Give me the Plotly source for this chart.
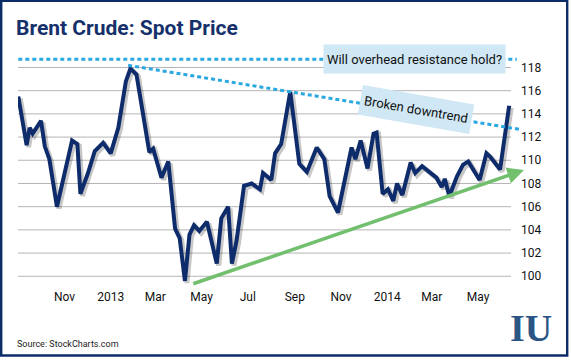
import plotly.graph_objects as go

# ---------------- data ----------------
dates = [
    "2012-09-01", "2012-09-12", "2012-09-16", "2012-09-20", "2012-10-01", "2012-10-06", "2012-10-12", "2012-10-22",
    "2012-11-11", "2012-11-18", "2012-11-22", "2012-12-02", "2012-12-11", "2012-12-22",
    "2013-01-01", "2013-01-11", "2013-01-21", "2013-01-27", "2013-02-04", "2013-02-13", "2013-02-21", "2013-02-26",
    "2013-03-09", "2013-03-18", "2013-03-27", "2013-04-02", "2013-04-09", "2013-04-15", "2013-04-21", "2013-04-28",
    "2013-05-08", "2013-05-21", "2013-05-27", "2013-06-05", "2013-06-10", "2013-06-16", "2013-06-26",
    "2013-07-06", "2013-07-17", "2013-07-21", "2013-08-01", "2013-08-06", "2013-08-14", "2013-08-26",
    "2013-09-07", "2013-09-17", "2013-09-30", "2013-10-10", "2013-10-17", "2013-10-28",
    "2013-11-15", "2013-11-20", "2013-11-27", "2013-12-06", "2013-12-14", "2013-12-18", "2013-12-26",
    "2014-01-02", "2014-01-09", "2014-01-14", "2014-01-21", "2014-02-01", "2014-02-07", "2014-02-16",
    "2014-03-07", "2014-03-14", "2014-03-18", "2014-03-24", "2014-04-03", "2014-04-11", "2014-04-18",
    "2014-05-03", "2014-05-12", "2014-05-17", "2014-05-30", "2014-06-11",
]
prices = [
    115.5, 111.3, 112.8, 112.3, 113.4, 111.2, 110.1, 106.0,
    111.7, 111.4, 107.1, 108.9, 110.8, 111.5,
    110.6, 112.8, 116.8, 117.9, 117.4, 113.8, 110.7, 111.0,
    108.5, 109.9, 104.1, 103.3, 99.6, 103.6, 104.4, 103.9,
    104.7, 101.1, 105.0, 106.0, 101.1, 103.0, 107.8,
    108.0, 107.5, 108.9, 108.3, 110.6, 111.4, 115.9,
    109.7, 109.0, 111.1, 110.1, 106.9, 105.5,
    111.1, 110.1, 111.7, 109.3, 112.3, 112.4, 107.1,
    107.5, 106.5, 108.0, 107.0, 109.8, 108.9, 109.5,
    108.5, 107.7, 108.4, 106.9, 108.6, 109.6, 109.9,
    108.3, 110.6, 110.3, 109.2, 114.7,
]

x_tick_vals = ["2012-11-01", "2013-01-01", "2013-03-01", "2013-05-01", "2013-07-01",
               "2013-09-01", "2013-11-01", "2014-01-01", "2014-03-01", "2014-05-01"]
x_tick_text = ["Nov", "2013", "Mar", "May", "Jul", "Sep", "Nov", "2014", "Mar", "May"]
y_tick_vals = [100, 102, 104, 106, 108, 110, 112, 114, 116, 118]

# trend / resistance lines (values)
resistance_level = 118.71
resistance_dates = ["2012-09-01", "2014-06-21"]
downtrend_dates = ["2013-01-24", "2014-06-24 10:00"]
downtrend_values = [118.19, 112.67]
uptrend_dates = ["2013-04-18", "2014-06-30 14:00"]
uptrend_values = [99.31, 109.16]

title_text = "Brent Crude: Spot Price"
source_text = "Source: StockCharts.com"
label_resistance = "Will overhead resistance hold?"
label_downtrend = "Broken downtrend"

# ---------------- layout geometry ----------------
FIG_W, FIG_H = 571, 360
L, R, T, B = 18, 51, 56, 72
PW, PH = FIG_W - L - R, FIG_H - T - B
X_RANGE = ["2012-08-31 14:38", "2014-06-25 07:40"]
Y_RANGE = [98.99, 118.99]
# shadow offset ranges (shift 2px right / 2px down)
X_RANGE_SH = ["2012-08-28 23:20", "2014-06-22 16:20"]
Y_RANGE_SH = [Y_RANGE[0] + 0.17, Y_RANGE[1] + 0.17]


def px_x(px):
    return (px - L) / PW


def px_y(py):
    return (T + PH - py) / PH


FONT = "Roboto, Liberation Sans, Arial, sans-serif"
NAVY = "#0e2c6b"
BLUE_DOT = "#2aa8e0"
BOX = "#d0e8f5"
GREEN = "#72bf6e"

fig = go.Figure()

# shadow of the price line
fig.add_trace(go.Scatter(
    x=dates, y=prices, mode="lines", xaxis="x2", yaxis="y2",
    line=dict(color="rgba(0,0,0,0.22)", width=5), hoverinfo="skip", showlegend=False,
))
# price line
fig.add_trace(go.Scatter(
    x=dates, y=prices, mode="lines", xaxis="x3", yaxis="y3",
    line=dict(color=NAVY, width=4), showlegend=False,
))

shapes = []
for v in y_tick_vals:
    shapes.append(dict(type="line", xref="x domain", yref="y", x0=0, x1=(511 - L) / PW,
                       y0=v, y1=v, line=dict(color="#b5b5b5", width=1), layer="below"))
shapes.append(dict(type="line", xref="x", yref="y",
                   x0=resistance_dates[0], x1=resistance_dates[1],
                   y0=resistance_level, y1=resistance_level,
                   line=dict(color=BLUE_DOT, width=3, dash="4px,3px"), layer="above"))
shapes.append(dict(type="line", xref="x", yref="y",
                   x0=downtrend_dates[0], x1=downtrend_dates[1],
                   y0=downtrend_values[0], y1=downtrend_values[1],
                   line=dict(color=BLUE_DOT, width=3, dash="4px,3px"), layer="above"))
# outer frame
shapes.append(dict(type="rect", xref="paper", yref="paper",
                   x0=px_x(1.2), x1=px_x(567.2), y0=px_y(355.5), y1=px_y(0.9),
                   line=dict(color="#0c2c68", width=2.4), fillcolor="rgba(0,0,0,0)", layer="above"))

annotations = [
    dict(x=uptrend_dates[1], y=uptrend_values[1], xref="x", yref="y",
         ax=uptrend_dates[0], ay=uptrend_values[0], axref="x", ayref="y",
         showarrow=True, arrowhead=2, arrowsize=0.95, arrowwidth=3.5, arrowcolor=GREEN, text=""),
    dict(x="2014-02-06", y=resistance_level, xref="x", yref="y", text=label_resistance,
         showarrow=False, bgcolor=BOX, width=179, height=26, xanchor="center", yanchor="middle",
         font=dict(family=FONT, size=13, color="#111111")),
    dict(x="2014-02-08", y=114.35, xref="x", yref="y", text=label_downtrend, textangle=9.9,
         showarrow=False, bgcolor=BOX, width=110, height=27, xanchor="center", yanchor="middle",
         font=dict(family=FONT, size=13, color="#111111")),
    dict(x=px_x(14.5), y=px_y(344), xref="paper", yref="paper", text=source_text,
         showarrow=False, xanchor="left", yanchor="middle",
         font=dict(family=FONT, size=9, color="#1a1a1a")),
    dict(x=px_x(531), y=px_y(328), xref="paper", yref="paper", text="<b>IU</b>",
         showarrow=False, xanchor="center", yanchor="middle",
         font=dict(family="Liberation Serif, DejaVu Serif, serif", size=38, color="#2a5585")),
]

axis_hidden = dict(visible=False, showgrid=False, zeroline=False, fixedrange=True)

fig.update_layout(
    width=FIG_W, height=FIG_H,
    margin=dict(l=L, r=R, t=T, b=B, pad=0),
    paper_bgcolor="white", plot_bgcolor="white",
    title=dict(text=title_text, x=16 / FIG_W, xanchor="left", xref="container",
               y=1 - 28 / FIG_H, yanchor="middle", yref="container",
               font=dict(family=FONT, size=21, color="#15306a", weight="bold")),
    xaxis=dict(type="date", range=X_RANGE, tickvals=x_tick_vals, ticktext=x_tick_text,
               showgrid=False, zeroline=False, showline=False, ticks="",
               tickfont=dict(family=FONT, size=12, color="#111111")),
    yaxis=dict(range=Y_RANGE, side="right", tickvals=y_tick_vals,
               showgrid=False, zeroline=False, showline=False, ticks="",
               tickfont=dict(family=FONT, size=12, color="#111111")),
    xaxis2=dict(type="date", range=X_RANGE_SH, overlaying="x", **axis_hidden),
    yaxis2=dict(range=Y_RANGE_SH, overlaying="y", **axis_hidden),
    xaxis3=dict(type="date", range=X_RANGE, overlaying="x", **axis_hidden),
    yaxis3=dict(range=Y_RANGE, overlaying="y", **axis_hidden),
    shapes=shapes,
    annotations=annotations,
    showlegend=False,
)

fig.write_html(
    "out.html",
    config={"displayModeBar": False},
    post_script="document.body.style.margin='0';document.body.style.padding='0';",
)
